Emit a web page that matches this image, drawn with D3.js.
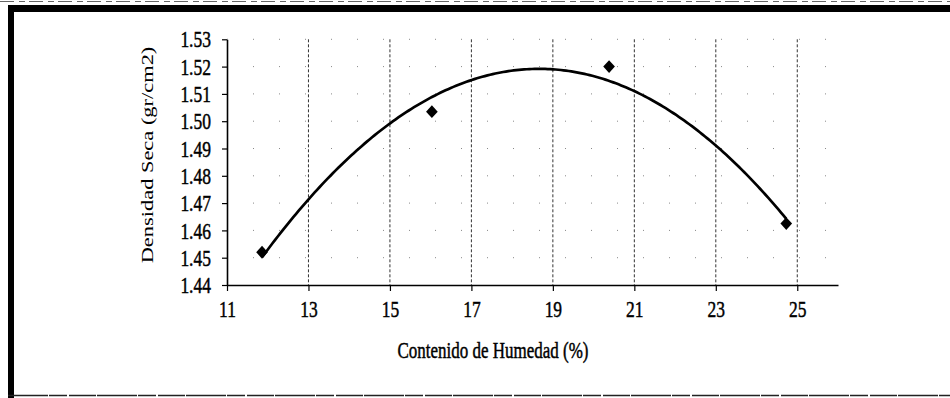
<!DOCTYPE html>
<html>
<head>
<meta charset="utf-8">
<script src="https://cdn.jsdelivr.net/npm/d3@7"></script>
<style>
  html, body { margin: 0; padding: 0; background: #fff; }
  svg { display: block; }
  text { font-family: "Liberation Serif", "Times New Roman", serif; fill: #000; stroke: #000; stroke-width: 0.35px; }
  text.ytitle { stroke: none; }
</style>
</head>
<body>
<svg id="chart" width="950" height="398"></svg>
<script>
// Compaction test: moisture content (%) vs dry density (gr/cm2)
const humedad = [11.86, 16.03, 20.38, 24.73];
const densidad = [1.452, 1.5035, 1.520, 1.4625];
const xTicks = [11, 13, 15, 17, 19, 21, 23, 25];
const yTicks = [1.44, 1.45, 1.46, 1.47, 1.48, 1.49, 1.50, 1.51, 1.52, 1.53];
const xTitle = "Contenido de Humedad (%)";
const yTitle = "Densidad Seca (gr/cm2)";

const svg = d3.select("#chart");
const W = 950, H = 398;
const STRETCH = 1.32; // tall, narrow lettering

const x = d3.scaleLinear().domain([11, 26]).range([227, 838]);
const y = d3.scaleLinear().domain([1.44, 1.53]).range([285, 39.3]);

// Outer frame
const frame = svg.append("g");
frame.append("rect").attr("x", 8).attr("y", 5).attr("width", W - 8).attr("height", 7).attr("fill", "#000");
frame.append("rect").attr("x", 8).attr("y", 5).attr("width", 6).attr("height", H - 5).attr("fill", "#000");
frame.append("line").attr("x1", 8).attr("x2", W).attr("y1", 395.5).attr("y2", 395.5)
  .attr("stroke", "#222").attr("stroke-width", 1.6).attr("stroke-dasharray", "40,1,18,2,27,1");
frame.append("line").attr("x1", 0).attr("x2", W).attr("y1", 1.5).attr("y2", 1.5)
  .attr("stroke", "#666").attr("stroke-width", 1).attr("stroke-dasharray", "14,5,6,4");

// Horizontal grid (sparse dots)
svg.append("g").selectAll("line")
  .data(yTicks.slice(1))
  .join("line")
  .attr("x1", x(11)).attr("x2", x(26))
  .attr("y1", d => y(d)).attr("y2", d => y(d))
  .attr("stroke", "#888").attr("stroke-width", 1)
  .attr("stroke-dasharray", "1,25");

// Vertical grid (dashed)
svg.append("g").selectAll("line")
  .data(xTicks.slice(1))
  .join("line")
  .attr("x1", d => x(d)).attr("x2", d => x(d))
  .attr("y1", y(1.53)).attr("y2", y(1.44))
  .attr("stroke", "#333").attr("stroke-width", 1)
  .attr("stroke-dasharray", "3,2");

// Axes
const gx = svg.append("g").attr("transform", `translate(0,${y(1.44)})`)
  .call(d3.axisBottom(x).tickValues(xTicks).tickFormat(d3.format("d")).tickSize(6).tickSizeOuter(0));
const gy = svg.append("g").attr("transform", `translate(${x(11)},0)`)
  .call(d3.axisLeft(y).tickValues(yTicks).tickFormat(d3.format(".2f")).tickSize(5).tickSizeOuter(0));

[gx, gy].forEach(g => {
  g.selectAll(".domain").attr("stroke", "#000").attr("stroke-width", 1.6);
  g.selectAll(".tick line").attr("stroke", "#000").attr("stroke-width", 1.2);
  g.selectAll("text").attr("font-family", null).attr("font-size", 17.5).attr("fill", "#000");
});
gx.selectAll(".tick text")
  .attr("y", null).attr("dy", "0.71em")
  .attr("transform", `translate(0,16) scale(1,${STRETCH})`);
gy.selectAll(".tick text")
  .attr("x", null).attr("dy", "0.33em")
  .attr("transform", `translate(-16,0) scale(1,${STRETCH})`);

// Second-order polynomial trendline (least squares through the measured points)
function quadFit(xs, ys) {
  const x0 = d3.mean(xs);
  const S = [0, 0, 0, 0, 0], T = [0, 0, 0];
  xs.forEach((xv, i) => {
    const u = xv - x0;
    for (let k = 0; k < 5; k++) S[k] += Math.pow(u, k);
    for (let k = 0; k < 3; k++) T[k] += ys[i] * Math.pow(u, k);
  });
  const M = [[S[0], S[1], S[2], T[0]], [S[1], S[2], S[3], T[1]], [S[2], S[3], S[4], T[2]]];
  for (let c = 0; c < 3; c++) {
    for (let r = c + 1; r < 3; r++) {
      const f = M[r][c] / M[c][c];
      for (let k = c; k < 4; k++) M[r][k] -= f * M[c][k];
    }
  }
  const coef = [0, 0, 0];
  for (let r = 2; r >= 0; r--) {
    let s = M[r][3];
    for (let k = r + 1; k < 3; k++) s -= M[r][k] * coef[k];
    coef[r] = s / M[r][r];
  }
  return xv => { const u = xv - x0; return coef[0] + coef[1] * u + coef[2] * u * u; };
}
const trend = quadFit(humedad, densidad);
const [xMin, xMax] = d3.extent(humedad);
const trendPts = d3.range(0, 201).map(i => {
  const xv = xMin + (xMax - xMin) * i / 200;
  return [xv, trend(xv)];
});
svg.append("path")
  .datum(trendPts)
  .attr("fill", "none").attr("stroke", "#000").attr("stroke-width", 2.7)
  .attr("stroke-linejoin", "round")
  .attr("d", d3.line().x(d => x(d[0])).y(d => y(d[1])));

// Measured points (diamonds)
svg.append("g").selectAll("path")
  .data(humedad.map((h, i) => [h, densidad[i]]))
  .join("path")
  .attr("transform", d => `translate(${x(d[0])},${y(d[1])}) scale(1,1.1) rotate(45)`)
  .attr("d", d3.symbol(d3.symbolSquare, 68))
  .attr("fill", "#000");

// Axis titles
svg.append("text")
  .attr("transform", `translate(493,358) scale(1,${STRETCH})`)
  .attr("text-anchor", "middle").attr("font-size", 17)
  .text(xTitle);
svg.append("text")
  .attr("class", "ytitle")
  .attr("transform", `translate(153,155) scale(1,${STRETCH}) rotate(-90)`)
  .attr("text-anchor", "middle").attr("font-size", 17)
  .text(yTitle);
</script>
</body>
</html>
